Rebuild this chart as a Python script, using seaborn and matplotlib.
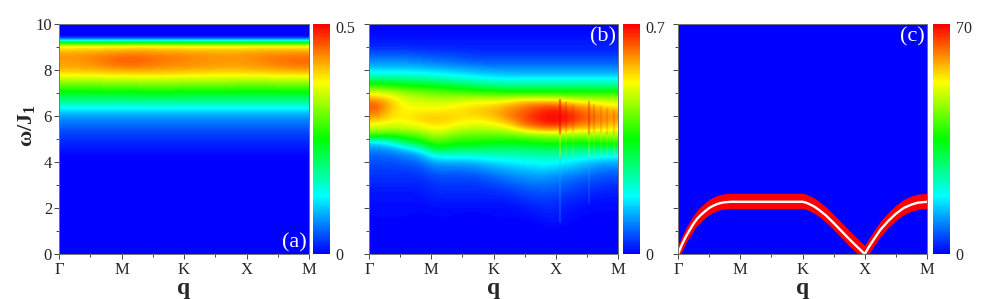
#importing modules I will need
import numpy as np
import matplotlib
matplotlib.use("Agg")
import matplotlib.pyplot as plt
import seaborn as sns
from matplotlib.colors import LinearSegmentedColormap

sns.set_style("white")
plt.rcParams['font.family'] = ['Liberation Serif', 'DejaVu Serif']
plt.rcParams['mathtext.fontset'] = 'custom'
plt.rcParams['mathtext.bf'] = 'Liberation Serif:bold'
plt.rcParams['mathtext.rm'] = 'Liberation Serif'
plt.rcParams['mathtext.default'] = 'bf'

q_labels = ["Γ", "M", "K", "X", "M"]
omega_ticks = [0, 2, 4, 6, 8, 10]
panel_names = ["(a)", "(b)", "(c)"]
scale_max = [0.5, 0.7, 70]
scale_labels = ["0.5", "0.7", "70"]

# every row below is one omega cell, from 9.875 down to 0.125 in steps of 0.25
# values are percent of the colour scale, one list per q column

# panel a, q = G .. M in steps of 0.5
a_columns = [
    [0,0,0,70,80,85,84,83, 78,70,61,52,44,35,26,19, 14,11,8,6,4,3,1,0, 0,0,0,0,0,0,0,0, 0,0,0,0,0,0,0,0],
    [0,0,0,70,81,87,87,85, 79,70,61,52,44,35,26,19, 14,11,8,6,4,3,1,0, 0,0,0,0,0,0,0,0, 0,0,0,0,0,0,0,0],
    [0,0,0,71,82,90,92,88, 80,71,62,53,44,35,26,19, 14,11,8,6,4,3,1,0, 0,0,0,0,0,0,0,0, 0,0,0,0,0,0,0,0],
    [0,0,0,71,82,88,88,86, 80,71,62,53,44,35,26,19, 14,11,8,6,4,3,1,0, 0,0,0,0,0,0,0,0, 0,0,0,0,0,0,0,0],
    [0,0,0,70,81,87,86,85, 79,71,62,53,44,35,26,19, 14,11,8,6,4,3,1,0, 0,0,0,0,0,0,0,0, 0,0,0,0,0,0,0,0],
    [0,0,0,70,81,85,85,84, 78,70,62,52,44,35,26,19, 14,11,8,6,4,3,1,0, 0,0,0,0,0,0,0,0, 0,0,0,0,0,0,0,0],
    [0,0,0,70,81,85,84,83, 78,70,61,52,44,35,26,19, 14,11,8,6,4,3,1,0, 0,0,0,0,0,0,0,0, 0,0,0,0,0,0,0,0],
    [0,0,0,70,82,87,87,85, 79,70,61,52,44,35,26,19, 14,11,8,6,4,3,1,0, 0,0,0,0,0,0,0,0, 0,0,0,0,0,0,0,0],
    [0,0,0,70,82,88,90,87, 80,71,62,52,44,35,26,19, 14,11,8,6,4,3,1,0, 0,0,0,0,0,0,0,0, 0,0,0,0,0,0,0,0],
]

# panel b, q = G .. M in steps of 0.25
b_columns = [
    [0,1,2,3,6,10,14,19, 26,38,52,66,78,88,92,88, 82,74,66,52,24,15,11,9, 7,6,5,4,3,2,2,1, 1,1,0,0,0,0,0,0],
    [0,1,2,3,6,10,14,19, 26,37,50,64,74,80,80,78, 76,72,64,50,30,18,12,9, 7,6,5,4,3,2,2,1, 1,1,0,0,0,0,0,0],
    [0,1,2,3,6,10,14,19, 26,36,48,60,68,72,74,76, 76,72,66,54,44,24,15,11, 8,6,5,4,3,2,2,1, 1,1,0,0,0,0,0,0],
    [0,1,2,3,5,9,13,18, 25,35,47,58,66,71,74,77, 79,75,68,58,48,33,18,13, 9,7,5,4,3,2,2,1, 1,0,0,0,0,0,0,0],
    [0,1,2,3,5,8,12,17, 24,33,45,56,64,70,74,78, 80,78,74,66,58,50,34,22, 15,11,8,6,5,4,3,2, 1,1,0,0,0,0,0,0],
    [0,1,2,3,5,8,11,16, 23,31,43,54,63,70,75,78, 79,76,70,62,54,46,32,22, 15,11,8,6,5,4,3,2, 1,1,0,0,0,0,0,0],
    [0,1,2,3,4,7,10,15, 21,29,40,52,64,73,77,78, 77,73,66,58,52,44,32,22, 15,11,8,6,5,4,3,2, 1,0,0,0,0,0,0,0],
    [0,1,2,3,4,6,9,14, 20,27,38,50,63,74,79,80, 76,72,66,58,52,44,32,24, 17,12,9,6,5,4,3,2, 1,0,0,0,0,0,0,0],
    [0,1,2,3,4,6,9,13, 19,25,36,48,62,74,80,82, 79,74,66,58,50,42,33,26, 19,15,11,8,6,4,3,2, 1,1,0,0,0,0,0,0],
    [0,1,2,3,4,6,9,13, 18,25,35,47,62,77,84,87, 85,78,68,58,50,42,34,27, 21,17,13,10,7,5,3,2, 1,1,0,0,0,0,0,0],
    [0,1,2,3,4,6,9,13, 18,25,35,47,62,82,88,91, 92,88,76,60,50,42,34,28, 23,18,15,12,9,7,5,3, 2,1,0,0,0,0,0,0],
    [0,1,2,3,4,6,9,13, 18,25,35,47,62,82,92,96, 97,93,80,62,52,43,35,29, 24,20,16,13,10,8,6,4, 3,2,1,0,0,0,0,0],
    [0,1,2,3,4,6,9,13, 18,25,35,47,62,82,95,99, 100,97,82,64,54,44,36,30, 24,19,15,12,10,8,6,5, 4,3,2,1,0,0,0,0],
    [0,1,2,3,4,6,9,13, 18,25,35,47,60,78,90,96, 98,92,78,62,52,43,34,27, 22,17,13,10,8,6,4,3, 2,1,1,0,0,0,0,0],
    [0,1,2,3,4,6,9,13, 18,25,35,47,60,75,86,91, 92,86,76,62,52,42,32,25, 19,15,11,8,6,5,3,2, 1,1,0,0,0,0,0,0],
    [0,1,2,3,4,6,9,13, 18,25,35,47,60,72,82,86, 88,84,76,63,53,42,31,23, 16,12,9,7,5,3,2,1, 1,0,0,0,0,0,0,0],
    [0,1,2,3,4,6,9,13, 18,25,35,47,60,70,78,84, 85,80,74,64,54,42,30,22, 15,11,8,6,4,3,2,1, 1,0,0,0,0,0,0,0],
]

# thin vertical streaks in panel b between X and the last M
streak_q = [3.07, 3.53, 3.16, 3.27, 3.62, 3.72, 3.82, 3.93]
streak_top = [6.7, 6.6, 6.6, 6.5, 6.5, 6.4, 6.3, 6.2]
streak_mid = [5.2, 5.2, 5.3, 5.3, 5.3, 5.3, 5.2, 5.2]
streak_low = [1.4, 2.2, 3.6, 3.6, 3.6, 3.8, 3.8, 4.0]
streak_alpha = [0.5, 0.35, 0.18, 0.15, 0.18, 0.15, 0.15, 0.15]

# panel c is empty except for the spin wave band
c_columns = [[0] * 40] * 17
band_q = [0, 0.06, 0.125, 0.19, 0.25, 0.31, 0.375, 0.44, 0.5, 0.56, 0.625, 0.69, 0.75, 0.85, 1, 1.5, 2,
          2.06, 2.125, 2.19, 2.25, 2.375, 2.5, 2.625, 2.75, 2.875, 3,
          3.06, 3.125, 3.19, 3.25, 3.375, 3.5, 3.625, 3.75, 3.85, 4]
band_w = [0, 0.39, 0.75, 1.05, 1.32, 1.54, 1.72, 1.87, 2.0, 2.09, 2.17, 2.22, 2.25, 2.27, 2.27, 2.27, 2.27,
          2.23, 2.15, 2.06, 1.95, 1.68, 1.35, 1.0, 0.65, 0.32, 0,
          0.28, 0.55, 0.81, 1.05, 1.43, 1.75, 2.0, 2.15, 2.23, 2.27]
band_above = 0.37
band_below = 0.29

rainbow = LinearSegmentedColormap.from_list(
    "rainbow_origin", ["#0000ff", "#00ffff", "#00ff00", "#ffff00", "#ff0000"], N=128)

fig = plt.figure(figsize=(9.97, 2.99), dpi=100)
W, H = 997.0, 299.0
panel_left = [59, 369, 678]
panel_right = [309, 618, 927]
cbar_left = [313, 623, 933]
cbar_right = [330, 640, 950]
top, bottom = 24, 254


def draw_panel(i, columns):
    ax = fig.add_axes([panel_left[i] / W, 1 - bottom / H, (panel_right[i] - panel_left[i]) / W, (bottom - top) / H])
    cax = fig.add_axes([cbar_left[i] / W, 1 - bottom / H, (cbar_right[i] - cbar_left[i]) / W, (bottom - top) / H])
    table = np.array(columns).T / 100 * scale_max[i]
    sns.heatmap(table, ax=ax, cbar_ax=cax, cmap=rainbow, vmin=0, vmax=scale_max[i],
                xticklabels=False, yticklabels=False)
    # same cells again, with the smooth look of the original
    mesh = ax.collections[0]
    n_rows, n_cols = table.shape
    ax.imshow(np.asarray(mesh.get_array()).reshape(table.shape), cmap=mesh.cmap, norm=mesh.norm,
              interpolation='bicubic', extent=(0, n_cols, n_rows, 0), aspect='auto', zorder=2)
    ax.set_xlim(0, n_cols)
    ax.set_ylim(n_rows, 0)

    # ticks in cell coordinates
    ax.tick_params(which='both', left=True, bottom=True, direction='out', color='#444444', width=0.7)
    ax.set_xticks(np.arange(5) / 4 * n_cols)
    ax.set_xticks((np.arange(4) + 0.5) / 4 * n_cols, minor=True)
    ax.set_xticklabels(q_labels, fontsize=12)
    y_major = [(10 - w) / 10 * n_rows for w in omega_ticks]
    ax.set_yticks(y_major)
    ax.set_yticks([(10 - w) / 10 * n_rows for w in [1, 3, 5, 7, 9]], minor=True)
    ax.tick_params(axis='x', which='major', length=3.5, pad=2.5)
    ax.tick_params(axis='y', which='major', length=3.5, pad=1.5)
    ax.tick_params(axis='both', which='minor', length=2)
    if i == 0:
        ax.set_yticklabels(omega_ticks, fontsize=12)
        ax.set_ylabel("ω/J$_1$", fontsize=16, fontweight='bold', labelpad=-1, y=0.56)
    else:
        ax.set_yticklabels([])
    ax.set_xlabel("q", fontsize=17, fontweight='bold', labelpad=0)
    for s in ax.spines.values():
        s.set_visible(True)
        s.set_color('#777777')
        s.set_linewidth(0.7)
        s.set_zorder(5)

    if i == 0:
        ax.text(0.99, 0.005, panel_names[i], transform=ax.transAxes, color='white', fontsize=16, ha='right', va='bottom', zorder=6)
    else:
        ax.text(0.99, 0.985, panel_names[i], transform=ax.transAxes, color='white', fontsize=16, ha='right', va='top', zorder=6)

    cbar = mesh.colorbar
    cbar.outline.set_visible(False)
    cbar.set_ticks([0, scale_max[i] * 0.987])
    cbar.set_ticklabels(["0", scale_labels[i]])
    cbar.ax.tick_params(length=0, labelsize=11.5, pad=4)
    return ax, n_rows, n_cols


draw_panel(0, a_columns)
ax_b, b_rows, b_cols = draw_panel(1, b_columns)
ax_c, c_rows, c_cols = draw_panel(2, c_columns)

# streaks of panel b: red part over the peak, faint blue tail below it
for k in range(len(streak_q)):
    x_s = streak_q[k] / 4 * b_cols
    sns.lineplot(x=[x_s, x_s], y=[(10 - streak_top[k]) / 10 * b_rows, (10 - streak_mid[k]) / 10 * b_rows], ax=ax_b,
                 color='#e80000', linewidth=1.6, alpha=streak_alpha[k], zorder=3, estimator=None, sort=False)
    sns.lineplot(x=[x_s, x_s], y=[(10 - streak_mid[k]) / 10 * b_rows, (10 - 4.2) / 10 * b_rows], ax=ax_b,
                 color='#f0f000', linewidth=1.4, alpha=streak_alpha[k] * 0.8, zorder=3, estimator=None, sort=False)
    sns.lineplot(x=[x_s, x_s], y=[(10 - 4.2) / 10 * b_rows, (10 - streak_low[k]) / 10 * b_rows], ax=ax_b,
                 color='#30b0ff', linewidth=1.4, alpha=streak_alpha[k] * 0.5, zorder=3, estimator=None, sort=False)

# spin wave band on top of panel c
band_x = np.array(band_q) / 4 * c_cols
band_y = (10 - np.array(band_w)) / 10 * c_rows
ax_c.fill_between(band_x, (10 - (np.array(band_w) + band_above)) / 10 * c_rows,
                  (10 - (np.array(band_w) - band_below)) / 10 * c_rows,
                  color='#ff0000', linewidth=0, zorder=3)
sns.lineplot(x=band_x, y=band_y, ax=ax_c, color='white', linewidth=1.7, sort=False, estimator=None, zorder=4)

plt.savefig("out.png", dpi=100)
